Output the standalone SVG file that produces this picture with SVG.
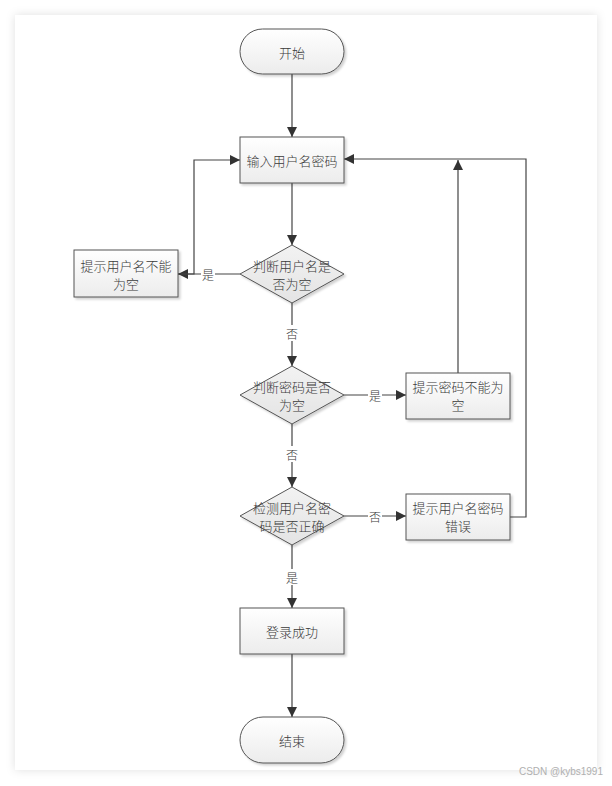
<svg xmlns="http://www.w3.org/2000/svg" width="612" height="786" viewBox="0 0 612 786">
<defs>
<linearGradient id="gBox" x1="0" y1="0" x2="0" y2="1">
<stop offset="0" stop-color="#ffffff"/>
<stop offset="1" stop-color="#ececec"/>
</linearGradient>
<linearGradient id="gDia" x1="0" y1="0" x2="0" y2="1">
<stop offset="0" stop-color="#f2f2f2"/>
<stop offset="1" stop-color="#e4e4e4"/>
</linearGradient>
<filter id="sh" x="-10%" y="-10%" width="130%" height="130%">
<feDropShadow dx="2" dy="2" stdDeviation="1.2" flood-color="#000" flood-opacity="0.18"/>
</filter>
<filter id="page" x="-5%" y="-5%" width="110%" height="110%">
<feDropShadow dx="0" dy="0" stdDeviation="5" flood-color="#000" flood-opacity="0.12"/>
</filter>
<marker id="arr" viewBox="0 0 10 10" refX="10" refY="5" markerWidth="10" markerHeight="10" markerUnits="userSpaceOnUse" orient="auto">
<path d="M0,0 L10,5 L0,10 z" fill="#333"/>
</marker>
</defs>
<style>
.shape{stroke:#555;stroke-width:1;}
.box{fill:url(#gBox);}
.dia{fill:url(#gDia);}
.t{font-family:"Noto Sans CJK SC","Noto Sans",sans-serif;font-size:13px;font-weight:300;fill:#3a3a3a;text-anchor:middle;dominant-baseline:central;}
.lab{font-family:"Noto Sans CJK SC","Noto Sans",sans-serif;font-size:12px;font-weight:300;fill:#3a3a3a;text-anchor:middle;dominant-baseline:central;}
.ln{fill:none;stroke:#444;stroke-width:1.2;}
.lbg{fill:#fff;}
</style>
<rect width="612" height="786" fill="#ffffff"/>
<rect x="15" y="15" width="582" height="755" fill="#ffffff" filter="url(#page)"/>

<g id="connectors">
<line class="ln" x1="292" y1="74" x2="292" y2="137" marker-end="url(#arr)"/>
<line class="ln" x1="292" y1="183" x2="292" y2="245" marker-end="url(#arr)"/>
<line class="ln" x1="240" y1="274" x2="178" y2="274" marker-end="url(#arr)"/>
<polyline class="ln" points="178,274 194,274 194,160 240,160" marker-end="url(#arr)"/>
<line class="ln" x1="292" y1="303" x2="292" y2="366" marker-end="url(#arr)"/>
<line class="ln" x1="344" y1="395" x2="406" y2="395" marker-end="url(#arr)"/>
<line class="ln" x1="458" y1="373" x2="458" y2="160" marker-end="url(#arr)"/>
<line class="ln" x1="292" y1="424" x2="292" y2="487" marker-end="url(#arr)"/>
<line class="ln" x1="344" y1="516" x2="406" y2="516" marker-end="url(#arr)"/>
<polyline class="ln" points="510,517 526,517 526,159 344,159" marker-end="url(#arr)"/>
<line class="ln" x1="292" y1="545" x2="292" y2="608" marker-end="url(#arr)"/>
<line class="ln" x1="292" y1="654" x2="292" y2="717" marker-end="url(#arr)"/>
<rect class="lbg" x="201" y="266" width="14" height="16"/>
<text class="lab" x="208" y="274">是</text>
<rect class="lbg" x="285" y="325" width="14" height="16"/>
<text class="lab" x="292" y="333">否</text>
<rect class="lbg" x="368" y="387" width="14" height="16"/>
<text class="lab" x="375" y="395">是</text>
<rect class="lbg" x="285" y="446" width="14" height="16"/>
<text class="lab" x="292" y="454">否</text>
<rect class="lbg" x="368" y="508" width="14" height="16"/>
<text class="lab" x="375" y="516">否</text>
<rect class="lbg" x="285" y="569" width="14" height="16"/>
<text class="lab" x="292" y="577">是</text>
</g>

<g id="start">
<rect class="shape box" x="240" y="29" width="104" height="45" rx="22.5" ry="22.5" filter="url(#sh)"/>
<text class="t" x="292" y="52">开始</text>
</g>
<g id="input">
<rect class="shape box" x="240" y="137" width="104" height="46" filter="url(#sh)"/>
<text class="t" x="292" y="160">输入用户名密码</text>
</g>
<g id="check-user-empty">
<polygon class="shape dia" points="292,245 344,274 292,303 240,274" filter="url(#sh)"/>
<text class="t" x="292" y="265">判断用户名是</text>
<text class="t" x="292" y="283">否为空</text>
</g>
<g id="msg-user-empty">
<rect class="shape box" x="74" y="250" width="104" height="47" filter="url(#sh)"/>
<text class="t" x="126" y="265">提示用户名不能</text>
<text class="t" x="126" y="283">为空</text>
</g>
<g id="check-pwd-empty">
<polygon class="shape dia" points="292,366 344,395 292,424 240,395" filter="url(#sh)"/>
<text class="t" x="292" y="386">判断密码是否</text>
<text class="t" x="292" y="404">为空</text>
</g>
<g id="msg-pwd-empty">
<rect class="shape box" x="406" y="373" width="104" height="46" filter="url(#sh)"/>
<text class="t" x="458" y="386">提示密码不能为</text>
<text class="t" x="458" y="404">空</text>
</g>
<g id="check-correct">
<polygon class="shape dia" points="292,487 344,516 292,545 240,516" filter="url(#sh)"/>
<text class="t" x="292" y="507">检测用户名密</text>
<text class="t" x="292" y="525">码是否正确</text>
</g>
<g id="msg-wrong">
<rect class="shape box" x="406" y="494" width="104" height="46" filter="url(#sh)"/>
<text class="t" x="458" y="507">提示用户名密码</text>
<text class="t" x="458" y="525">错误</text>
</g>
<g id="success">
<rect class="shape box" x="240" y="608" width="104" height="46" filter="url(#sh)"/>
<text class="t" x="292" y="631">登录成功</text>
</g>
<g id="end">
<rect class="shape box" x="240" y="717" width="104" height="46" rx="23" ry="23" filter="url(#sh)"/>
<text class="t" x="292" y="740">结束</text>
</g>
<text x="603" y="775" font-family="'Liberation Sans',sans-serif" font-size="10" fill="#b0b0b0" text-anchor="end">CSDN @kybs1991</text>
</svg>
